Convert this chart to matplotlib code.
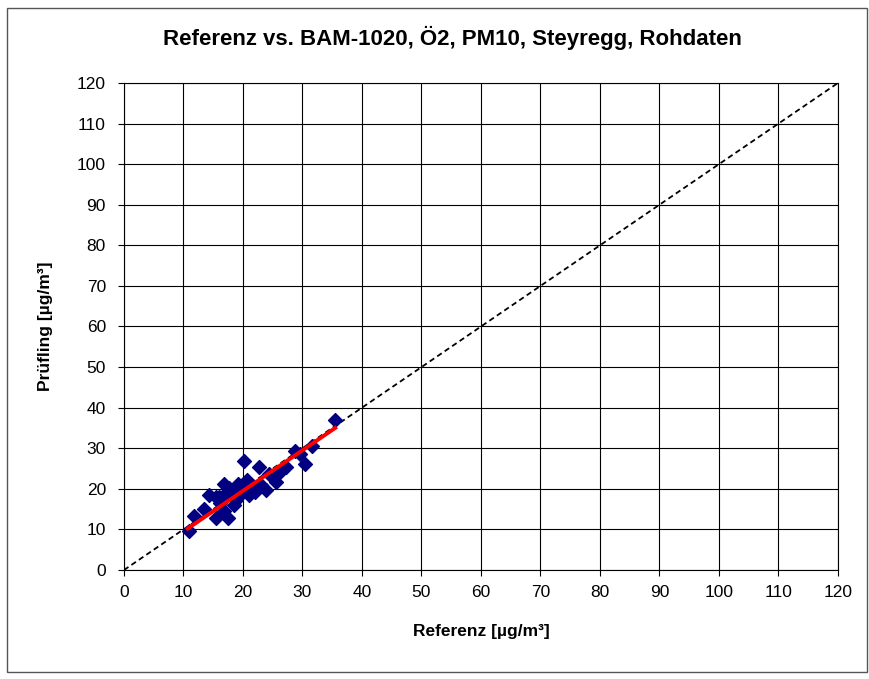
import numpy as np
import matplotlib.pyplot as plt
from matplotlib.patches import Rectangle

# Referenz vs. Prüfling (µg/m³)
referenz = [35.5, 31.6, 28.8, 30.5, 27.2, 20.2, 22.7, 24.4, 25.5, 23.8,
            22.1, 20.7, 19.1, 16.8, 17.7, 14.3, 15.4, 18.8, 16.8, 15.4,
            17.4, 11.8, 11.0, 19.3, 21.5, 18.0, 16.2, 17.0, 19.8, 21.0,
            23.0, 13.5, 16.0, 18.5, 20.0, 26.0, 29.5]
pruefling = [37.0, 30.6, 29.4, 26.1, 25.3, 26.9, 25.3, 23.7, 21.7, 19.7,
             19.3, 22.1, 21.3, 21.3, 20.1, 18.5, 18.1, 17.3, 14.5, 12.8,
             12.8, 13.2, 9.6, 18.9, 20.6, 19.5, 16.5, 18.8, 19.0, 18.5,
             21.0, 15.0, 18.0, 16.0, 20.5, 24.0, 28.5]

# Regressionsgerade
steigung = 1.0
achsenabschnitt = -0.5
fit_von, fit_bis = 10.7, 35.5

ticks = np.arange(0, 121, 10)

plt.rcParams['font.family'] = ['Liberation Sans', 'DejaVu Sans']

fig = plt.figure(figsize=(8.7, 6.79), dpi=100)
fig.patches.append(Rectangle((0.008, 0.01), 0.988, 0.978, transform=fig.transFigure,
                             fill=False, edgecolor='#555555', linewidth=1.0))

ax = fig.add_axes([0.1425, 0.1605, 0.8207, 0.7173])
ax.set_xlim(0, 120)
ax.set_ylim(0, 120)
ax.set_xticks(ticks)
ax.set_yticks(ticks)
ax.grid(True, color='black', linewidth=0.8)
ax.set_axisbelow(True)

ax.plot([0, 120], [0, 120], color='black', linestyle='--', linewidth=1.3, dashes=(3, 2))
ax.scatter(referenz, pruefling, marker='D', s=50, color='#000080', zorder=3)
xf = np.array([fit_von, fit_bis])
ax.plot(xf, steigung * xf + achsenabschnitt, color='red', linewidth=2.8, zorder=4)

for s in ax.spines.values():
    s.set_color('black')
    s.set_linewidth(0.8)
ax.tick_params(labelsize=12.5, length=4, direction='out', width=0.8)
ax.tick_params(axis='x', pad=7)
ax.tick_params(axis='y', pad=9)

ax.set_xlabel('Referenz [µg/m³]', fontsize=12.5, fontweight='bold', labelpad=17)
ax.set_ylabel('Prüfling [µg/m³]', fontsize=12.5, fontweight='bold', labelpad=17)
fig.text(0.52, 0.944, 'Referenz vs. BAM-1020, Ö2, PM10, Steyregg, Rohdaten',
         ha='center', va='center', fontsize=16, fontweight='bold')

fig.savefig('out.png', dpi=100)
